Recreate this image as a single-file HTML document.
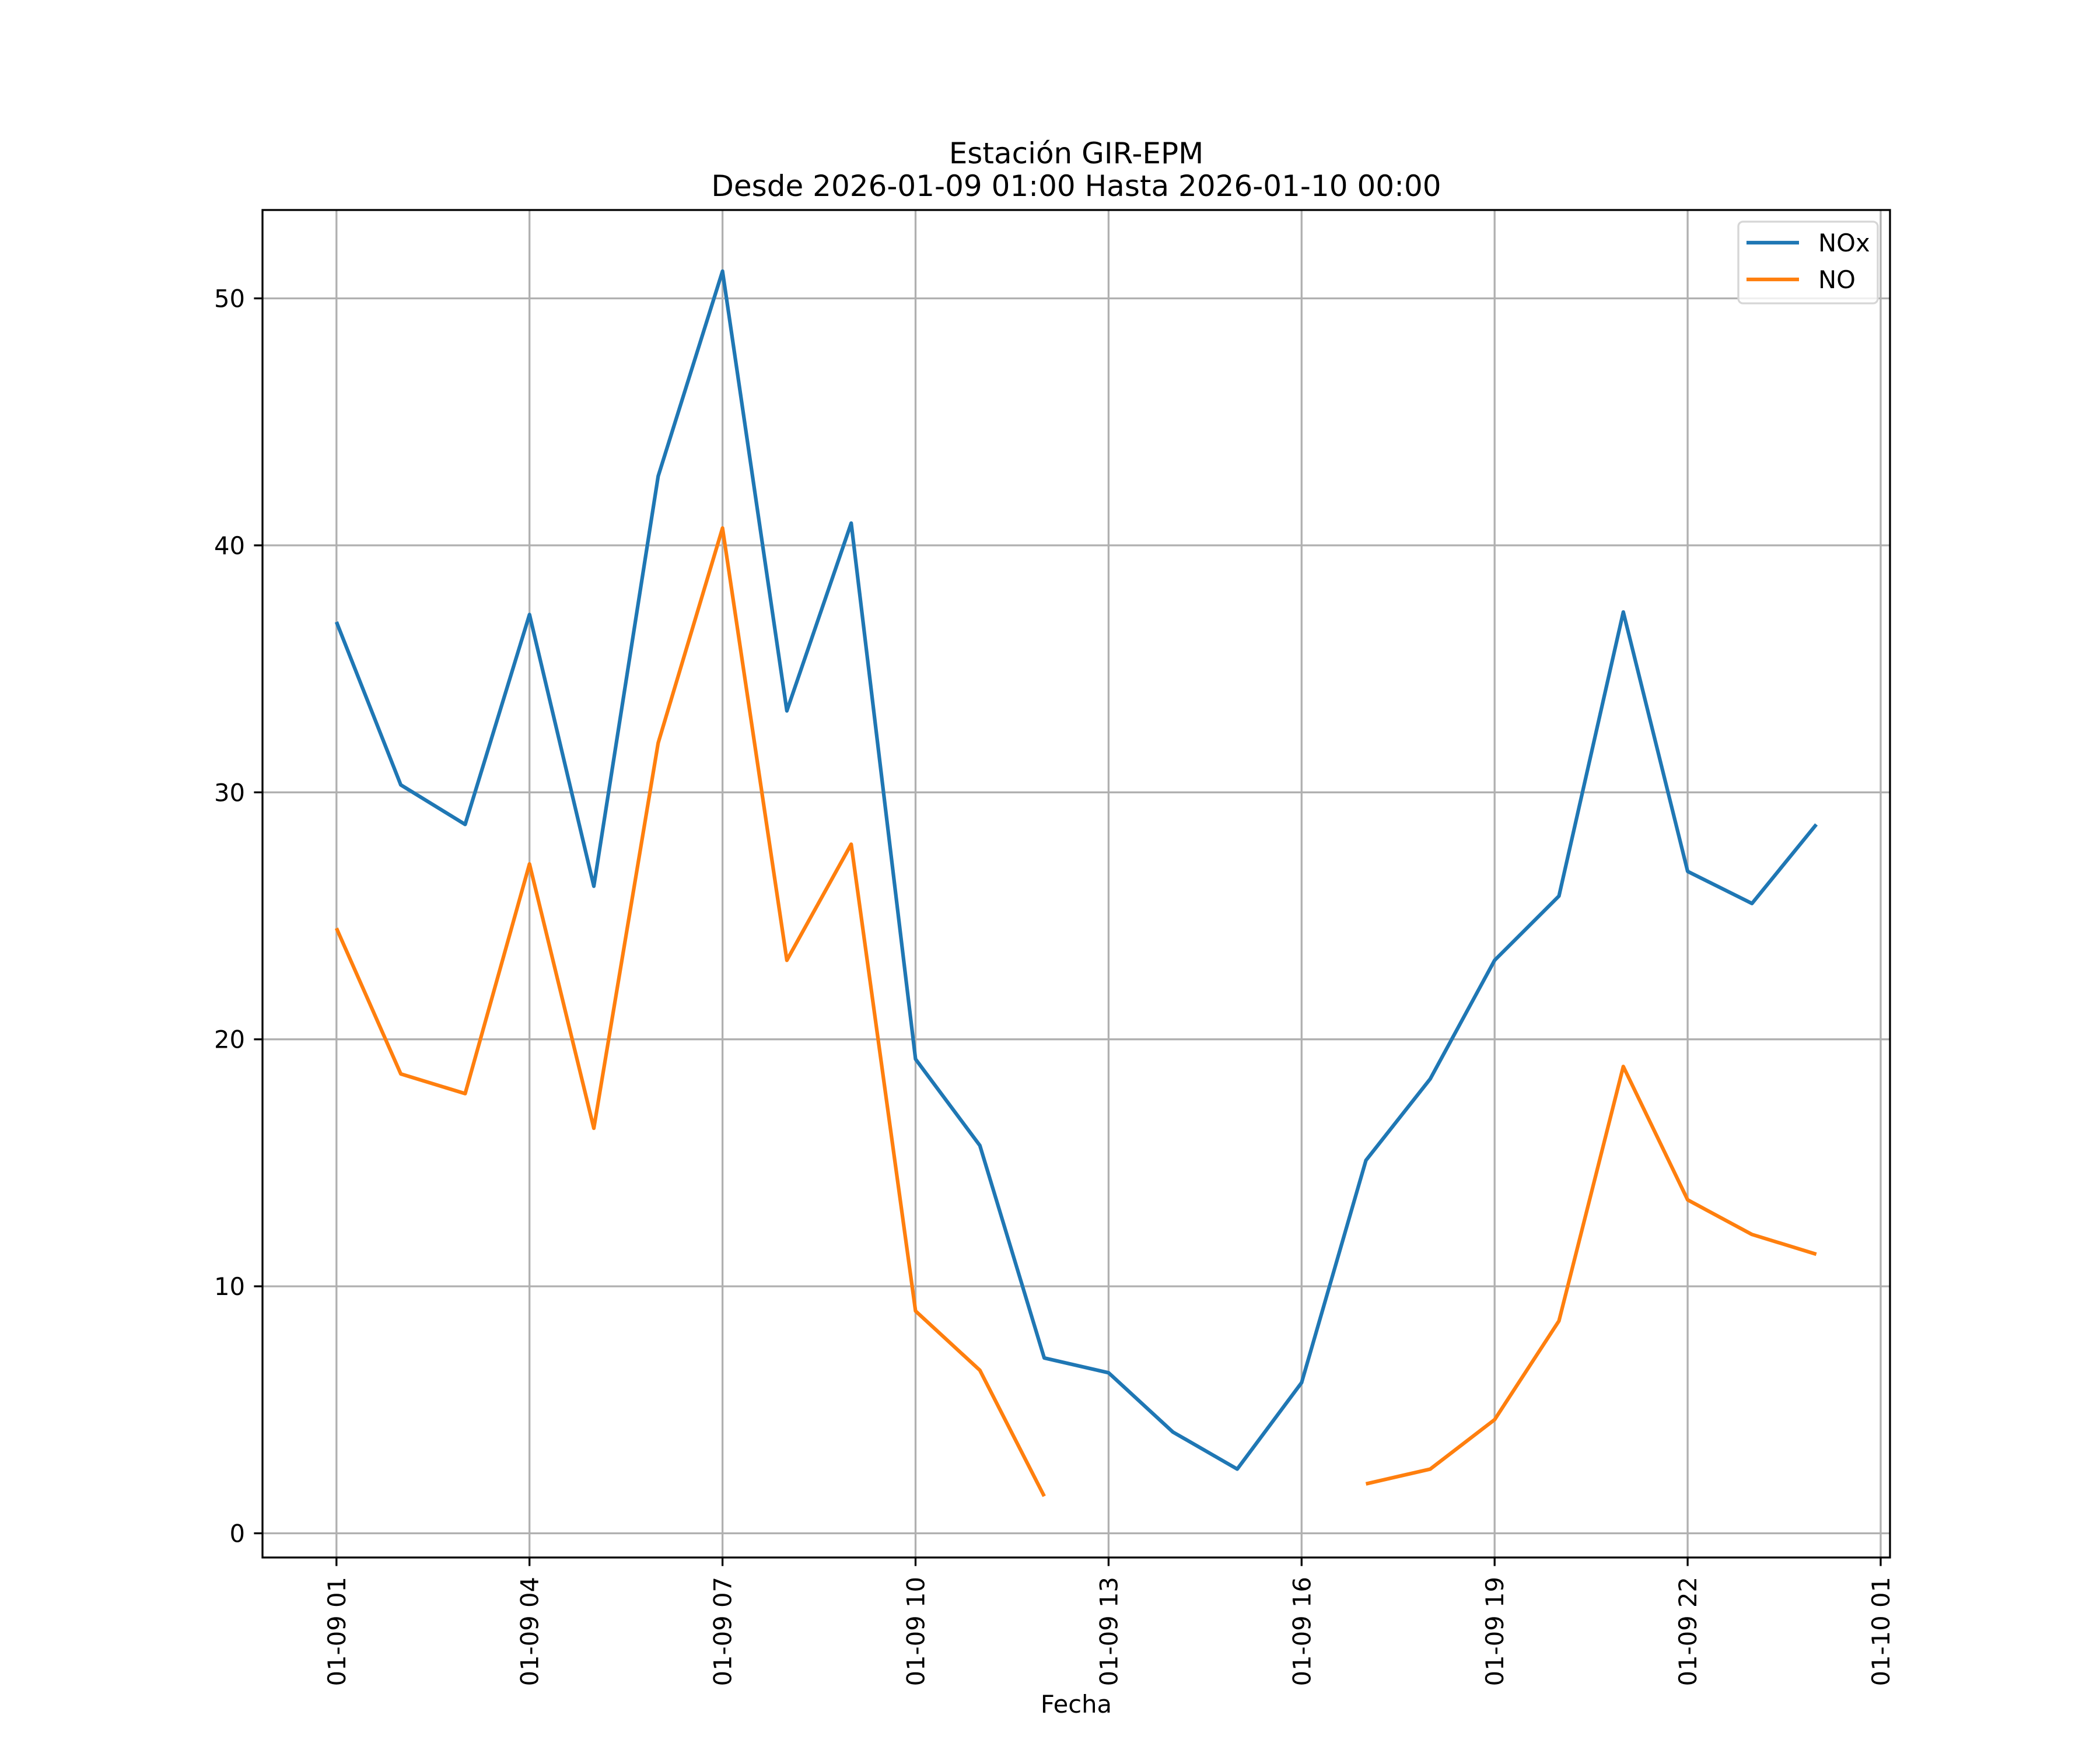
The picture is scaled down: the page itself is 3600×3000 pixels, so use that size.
<!DOCTYPE html>
<html><head><meta charset="utf-8"><style>
html,body{margin:0;padding:0;background:#fff}
svg{display:block;font-family:"DejaVu Sans","Liberation Sans",sans-serif}
</style></head><body>
<svg id="chart" width="3600" height="3000" viewBox="0 0 3600 3000" xmlns="http://www.w3.org/2000/svg">
<rect width="3600" height="3000" fill="#fff"/>
<g id="grid"></g>
<g id="series"></g>
<rect x="450" y="360" width="2790" height="2310" fill="none" stroke="#000" stroke-width="3.3"/>
<g id="ticks"></g>
<text x="1845" y="280" font-size="50" text-anchor="middle">Estación GIR-EPM</text>
<text x="1845" y="336" font-size="50" text-anchor="middle">Desde 2026-01-09 01:00 Hasta 2026-01-10 00:00</text>
<text x="1845" y="2936" font-size="41.7" text-anchor="middle">Fecha</text>
<g>
<rect x="2980" y="380" width="239" height="140" rx="8" fill="#fff" fill-opacity="0.8" stroke="#d6d6d6" stroke-width="3.3"/>
<line x1="2994" y1="416" x2="3084" y2="416" stroke="#1f77b4" stroke-width="6.25"/>
<text x="3117" y="431" font-size="41.7">NOx</text>
<line x1="2994" y1="479" x2="3084" y2="479" stroke="#ff7f0e" stroke-width="6.25"/>
<text x="3117" y="494" font-size="41.7">NO</text>
</g>
</svg>
<script>
const hours = [1,2,3,4,5,6,7,8,9,10,11,12,13,14,15,16,17,18,19,20,21,22,23,24];
const noxValues = [36.9,30.3,28.7,37.2,26.2,42.8,51.1,33.3,40.9,19.2,15.7,7.1,6.5,4.1,2.6,6.1,15.1,18.4,23.2,25.8,37.3,26.8,25.5,28.7];
const noValues = [24.5,18.6,17.8,27.1,16.4,32.0,40.7,23.2,27.9,9.0,6.6,1.5,null,null,null,null,2.0,2.6,4.6,8.6,18.9,13.5,12.1,11.3];
const yTicks = [0,10,20,30,40,50];
const xTickHours = [1,4,7,10,13,16,19,22,25];
const xTickLabels = ["01-09 01","01-09 04","01-09 07","01-09 10","01-09 13","01-09 16","01-09 19","01-09 22","01-10 01"];

const NS="http://www.w3.org/2000/svg";
const L=450,R=3240,T=360,B=2670;
const xS = h => 576.8 + (h-1)*110.3;
const yS = v => 2628.5 - v*42.34;
function mk(tag,attrs,parent){const e=document.createElementNS(NS,tag);for(const k in attrs)e.setAttribute(k,attrs[k]);parent.appendChild(e);return e;}
const grid=document.getElementById('grid'),ticks=document.getElementById('ticks'),series=document.getElementById('series');
yTicks.forEach(v=>{
  const y=yS(v);
  const g=mk('line',{x1:L,x2:R,y1:y,y2:y,stroke:'#b0b0b0','stroke-width':3.3},grid);
  
  
  const t=mk('line',{x1:L-14.6,x2:L,y1:y,y2:y,stroke:'#000','stroke-width':3.3},ticks);
  
  
  const tx=mk('text',{x:L-30,y:y+15,'font-size':41.7,'text-anchor':'end'},ticks);
  tx.textContent=String(v);
  
  
});
xTickHours.forEach((h,i)=>{
  const x=xS(h);
  const g=mk('line',{x1:x,x2:x,y1:T,y2:B,stroke:'#b0b0b0','stroke-width':3.3},grid);
  
  
  const t=mk('line',{x1:x,x2:x,y1:B,y2:B+14.6,stroke:'#000','stroke-width':3.3},ticks);
  
  
  const tx=mk('text',{x:0,y:0,'font-size':41.7,'text-anchor':'end',transform:`translate(${x+15},${B+33}) rotate(-90)`},ticks);
  tx.textContent=xTickLabels[i];
  
  
});
function drawSeries(vals,color,name){
  let segs=[],cur=[];
  vals.forEach((v,i)=>{ if(v===null){ if(cur.length)segs.push(cur); cur=[]; } else cur.push(xS(hours[i]).toFixed(1)+','+yS(v).toFixed(1)); });
  if(cur.length)segs.push(cur);
  segs.forEach(s=>{
    const p=mk('polyline',{points:s.join(' '),fill:'none',stroke:color,'stroke-width':6.25,'stroke-linejoin':'round'},series);
    
    
  });
}
drawSeries(noxValues,'#1f77b4','nox-line');
drawSeries(noValues,'#ff7f0e','no-line');
</script>
</body></html>
